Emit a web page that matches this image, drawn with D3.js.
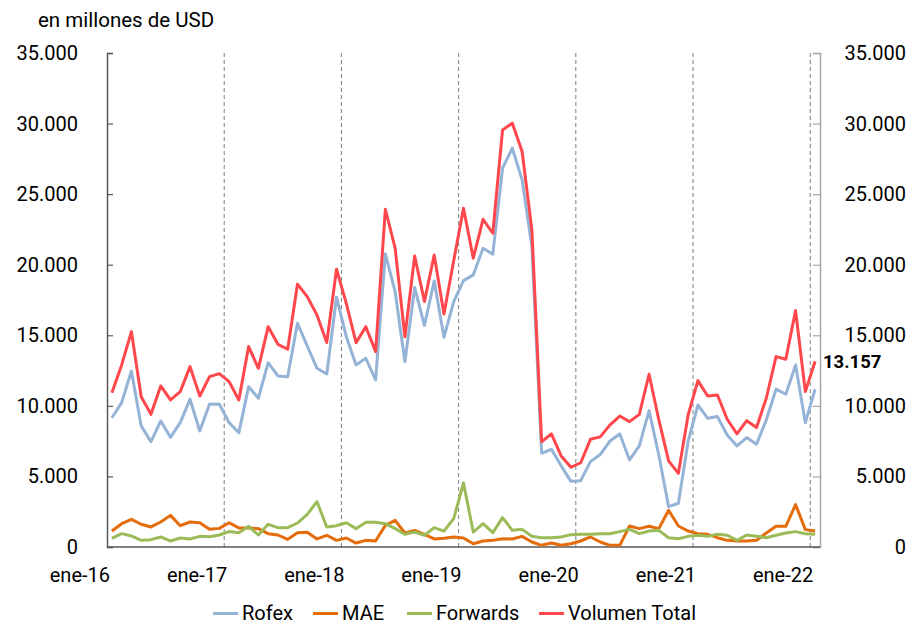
<!DOCTYPE html>
<html><head><meta charset="utf-8">
<script src="https://cdn.jsdelivr.net/npm/d3@7"></script>
<style>
html,body{margin:0;padding:0;background:#fff;}
text{font-family:Roboto,"Noto Sans",sans-serif;}
</style></head>
<body><svg id="c" width="907" height="625"></svg>
<script>
const yearLabels = ["ene-16","ene-17","ene-18","ene-19","ene-20","ene-21","ene-22"];
const monthsES = ["ene","feb","mar","abr","may","jun","jul","ago","sep","oct","nov","dic"];
const months = d3.range(73).map(i => monthsES[i % 12] + "-" + (16 + Math.floor(i / 12)));
const yTicks = [0,5000,10000,15000,20000,25000,30000,35000];

const rofex = [9160,10230,12470,8580,7460,8930,7770,8810,10470,8220,10130,10110,
  8810,8100,11360,10540,13060,12120,12070,15850,14250,12660,12260,17700,
  14900,12900,13370,11840,20770,18090,13130,18380,15690,18850,14860,17390,
  18870,19280,21170,20740,26840,28260,26010,21280,6640,6920,5750,4650,4700,6050,6550,
  7510,8010,6170,7160,9660,6500,2860,3100,7480,10060,9120,9240,7940,7160,7750,7280,9000,
  11180,10820,12900,8810,11180];
const mae = [1130,1650,1960,1610,1420,1770,2240,1510,1770,1720,1250,1320,
  1720,1350,1350,1300,945,850,540,1015,1040,570,830,470,
  640,280,470,425,1535,1890,990,1180,900,570,615,710,
  640,235,425,470,590,570,755,355,120,280,120,235,425,710,355,120,
  120,1490,1300,1465,1300,2600,1490,1130,945,900,660,470,425,425,470,990,
  1465,1465,3000,1230,1130];
const forwards = [615,945,780,470,520,710,425,640,570,755,730,850,
  1090,1015,1465,850,1605,1370,1370,1700,2315,3210,1420,1510,
  1720,1300,1750,1750,1650,1300,900,1060,830,1370,1130,2010,
  4535,1060,1650,1015,2080,1180,1250,755,660,660,710,875,900,900,945,945,
  1090,1250,945,1130,1180,660,590,755,830,755,900,830,470,850,755,660,
  830,990,1090,945,900];
const total = [10936,12900,15260,10650,9400,11410,10420,11010,12780,10700,12070,12280,
  11720,10420,14200,12660,15610,14360,14010,18620,17740,16440,14480,19680,
  17260,14480,15610,13840,23930,21170,14900,20620,17390,20690,16510,20300,
  24000,20460,23220,22230,29550,30030,28020,22470,7460,8010,6450,5650,5970,7630,7800,
  8650,9280,8880,9400,12240,9000,6100,5220,9360,11790,10700,10770,9050,8010,8950,8460,10540,
  13490,13300,16750,11010,13157];

const seriesNames = ["Rofex","MAE","Forwards","Volumen Total"];
const seriesData = [rofex, mae, forwards, total];
const seriesColors = ["#95b3d7","#e46c0a","#9bbb59","#ff474c"];

const svg = d3.select("#c");
const L = 107, R = 820, T = 53, B = 547;

const x = d3.scaleBand().domain(months).range([L, R]).padding(0);
const xc = d => x(d) + x.bandwidth() / 2;
const y = d3.scaleLinear().domain([0, 35000]).range([B, T]);
const fmt = v => d3.format(",")(v).replace(/,/g, ".");

// dashed year separators
const yearStarts = months.filter((m, i) => i % 12 === 0 && i > 0);
svg.append("g").selectAll("line").data(yearStarts).join("line")
  .attr("x1", d => x(d)).attr("x2", d => x(d))
  .attr("y1", T).attr("y2", B)
  .attr("stroke", "#7f7f7f").attr("stroke-width", 1).attr("stroke-dasharray", "4,3");

// left axis
const gl = svg.append("g").attr("transform", `translate(${L},0)`)
  .call(d3.axisRight(y).tickValues(yTicks).tickSize(6).tickFormat(""));
gl.select(".domain").attr("stroke", "#595959").attr("stroke-width", 1.5);
gl.selectAll(".tick line").attr("stroke", "#595959").attr("stroke-width", 1.2);
svg.append("g").selectAll("text").data(yTicks).join("text")
  .attr("x", 78).attr("y", d => y(d) + 7)
  .attr("text-anchor", "end").attr("font-size", 20).attr("fill", "#000")
  .text(fmt);

// right axis
const gr = svg.append("g").attr("transform", `translate(${R},0)`)
  .call(d3.axisLeft(y).tickValues(yTicks).tickSize(7).tickFormat(""));
gr.select(".domain").attr("stroke", "#a6a6a6").attr("stroke-width", 1.5);
gr.selectAll(".tick line").attr("stroke", "#a6a6a6").attr("stroke-width", 1.2);
svg.append("g").selectAll("text").data(yTicks).join("text")
  .attr("x", 906).attr("y", d => y(d) + 7)
  .attr("text-anchor", "end").attr("font-size", 20).attr("fill", "#000")
  .text(fmt);

// bottom axis
svg.append("line").attr("x1", L).attr("x2", R).attr("y1", B).attr("y2", B)
  .attr("stroke", "#595959").attr("stroke-width", 1.5);

// x labels
const labelMonths = months.filter((m, i) => i % 12 === 0);
svg.append("g").selectAll("text").data(labelMonths).join("text")
  .attr("x", d => x(d) + 3).attr("y", 582)
  .attr("text-anchor", "end").attr("font-size", 20).attr("fill", "#000")
  .text((d, i) => yearLabels[i]);

// unit label
svg.append("text").attr("x", 38).attr("y", 27).attr("font-size", 20.5).attr("fill", "#000")
  .text("en millones de USD");

// lines
const line = d3.line().x((d, i) => xc(months[i])).y(d => y(d));
seriesData.forEach((s, k) => {
  svg.append("path").datum(s).attr("d", line)
    .attr("fill", "none").attr("stroke", seriesColors[k])
    .attr("stroke-width", 3).attr("stroke-linejoin", "round");
});

// end label
svg.append("text").attr("x", 823).attr("y", y(total[total.length - 1]) + 7)
  .attr("font-size", 18.5).attr("font-weight", "bold").attr("fill", "#000")
  .text(fmt(total[total.length - 1]));

// legend
const legX = [213, 313, 407, 539];
const lg = svg.append("g");
seriesNames.forEach((n, k) => {
  lg.append("line").attr("x1", legX[k]).attr("x2", legX[k] + 25)
    .attr("y1", 613.5).attr("y2", 613.5)
    .attr("stroke", seriesColors[k]).attr("stroke-width", 3);
  lg.append("text").attr("x", legX[k] + 29).attr("y", 619.5)
    .attr("font-size", 20).attr("fill", "#000").text(n);
});
</script></body></html>
